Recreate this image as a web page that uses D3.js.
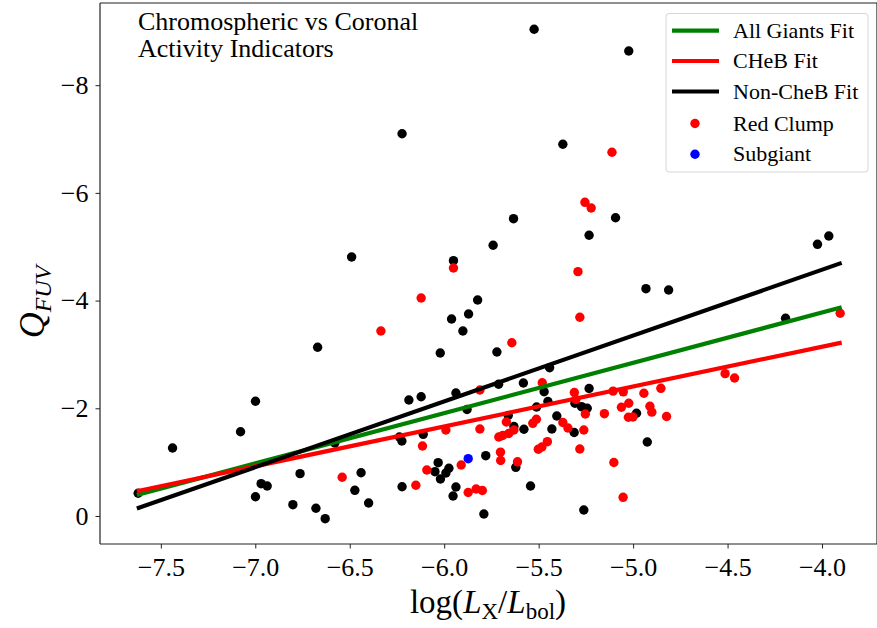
<!DOCTYPE html>
<html>
<head>
<meta charset="utf-8">
<script src="https://cdn.jsdelivr.net/npm/d3@7"></script>
<style>
  body { margin: 0; background: #fff; }
  text { font-family: "Liberation Serif", "DejaVu Serif", serif; fill: #000; }
</style>
</head>
<body>
<svg id="chart" width="877" height="628" viewBox="0 0 877 628"></svg>
<script>
// non-CHeB / all giants (black)
const giants = [
  [-5.524,-9.038],[-5.023,-8.635],[-6.223,-7.099],[-5.372,-6.903],[-5.633,-5.521],[-5.093,-5.539],
  [-5.233,-5.213],[-5.741,-5.027],[-5.951,-4.741],[-6.490,-4.810],[-4.932,-4.221],[-4.812,-4.197],
  [-5.823,-4.011],[-5.871,-3.751],[-5.961,-3.658],[-5.901,-3.435],[-6.021,-3.027],[-5.721,-3.045],
  [-6.670,-3.133],[-5.442,-2.754],[-3.964,-5.200],[-4.024,-5.045],[-4.193,-3.671],[-5.712,-2.446],
  [-5.581,-2.470],[-5.233,-2.368],[-5.938,-2.284],[-6.187,-2.154],[-6.122,-2.215],[-5.471,-2.308],
  [-5.879,-1.978],[-5.451,-2.126],[-5.511,-2.024],[-5.308,-2.093],[-5.273,-2.030],[-5.243,-2.000],
  [-4.982,-1.907],[-5.661,-1.866],[-5.404,-1.857],[-5.631,-1.662],[-5.578,-1.610],[-5.430,-1.616],
  [-5.312,-1.551],[-6.111,-1.517],[-6.237,-1.467],[-6.224,-1.393],[-4.925,-1.374],[-5.780,-1.120],
  [-5.621,-0.904],[-6.032,-0.990],[-5.975,-0.886],[-5.991,-0.798],[-6.049,-0.823],[-6.020,-0.687],
  [-6.223,-0.544],[-5.938,-0.539],[-5.953,-0.371],[-5.543,-0.557],[-5.790,-0.037],[-5.261,-0.111],
  [-6.999,-2.130],[-7.078,-1.565],[-7.438,-1.263],[-7.620,-0.422],[-6.763,-0.786],[-6.440,-0.804],
  [-6.473,-0.477],[-6.400,-0.241],[-6.969,-0.600],[-6.937,-0.557],[-6.999,-0.358],[-6.801,-0.210],
  [-6.679,-0.143],[-6.630,0.050],[-6.579,-1.356]
];

// red clump (CHeB)
const redClump = [
  [-5.112,-6.754],[-5.255,-5.825],[-5.222,-5.720],[-5.951,-4.605],[-5.292,-4.537],[-6.122,-4.048],
  [-5.282,-3.690],[-6.335,-3.435],[-5.642,-3.218],[-3.904,-3.764],[-4.513,-2.643],[-4.463,-2.563],
  [-4.853,-2.371],[-5.481,-2.475],[-5.811,-2.340],[-5.311,-2.293],[-5.303,-2.163],[-5.106,-2.318],
  [-5.052,-2.306],[-4.943,-2.279],[-5.253,-1.894],[-5.152,-1.900],[-5.062,-2.019],[-5.023,-2.093],
  [-4.911,-2.037],[-4.901,-1.928],[-5.025,-1.833],[-5.001,-1.838],[-4.823,-1.848],[-5.671,-1.746],
  [-5.512,-1.796],[-5.531,-1.721],[-5.372,-1.736],[-5.345,-1.634],[-5.261,-1.597],[-5.991,-1.597],
  [-5.811,-1.616],[-5.631,-1.597],[-5.658,-1.532],[-5.690,-1.495],[-5.711,-1.467],[-6.115,-1.300],
  [-5.454,-1.380],[-5.483,-1.281],[-5.502,-1.239],[-5.282,-1.244],[-5.702,-1.185],[-5.701,-1.031],
  [-5.612,-1.006],[-5.910,-0.947],[-6.092,-0.854],[-5.102,-0.994],[-6.150,-0.570],[-5.873,-0.436],
  [-5.831,-0.501],[-5.798,-0.474],[-5.053,-0.347],[-6.540,-0.719]
];

const subgiant = [[-5.873,-1.064]];

// fit lines, evaluated at the two ends of the x range
const fitX = [-7.627, -3.896];
const allFitQ = [-0.39, -3.875];
const chebFitQ = [-0.46, -3.22];
const nonChebFitQ = [-0.14, -4.70];

const xTicks = [-7.5, -7.0, -6.5, -6.0, -5.5, -5.0, -4.5, -4.0];
const yTicks = [0, -2, -4, -6, -8];

const svg = d3.select("#chart");
const pLeft = 100, pRight = 877, pTop = 3, pBottom = 544;

const x = d3.scaleLinear().domain([-7.822, -3.709]).range([pLeft, pRight]);
const y = d3.scaleLinear().domain([-9.526, 0.52]).range([pTop, pBottom]);

// axes
const xAxis = svg.append("g")
  .attr("transform", `translate(0,${pBottom})`)
  .call(d3.axisBottom(x).tickValues(xTicks).tickSizeOuter(0).tickSize(4.5).tickPadding(7)
    .tickFormat(d => (d < 0 ? "\u2212" : "") + Math.abs(d).toFixed(1)));
const yAxis = svg.append("g")
  .attr("transform", `translate(${pLeft},0)`)
  .call(d3.axisLeft(y).tickValues(yTicks).tickSizeOuter(0).tickSize(4.5).tickPadding(7)
    .tickFormat(d => (d < 0 ? "\u2212" : "") + Math.abs(d)));

[xAxis, yAxis].forEach(a => {
  a.select(".domain").remove();
  a.selectAll(".tick line").attr("stroke", "#222").attr("stroke-width", 1);
  a.selectAll(".tick text").attr("font-size", 26).attr("font-family", "Liberation Serif").attr("fill", "#000");
});
xAxis.selectAll(".tick text").attr("dy", "0.8em");

// frame
svg.append("g").selectAll("line")
  .data([[pLeft, pTop, pLeft, pBottom], [pLeft, pBottom, pRight, pBottom], [pLeft, pTop, pRight, pTop], [pRight, pTop, pRight, pBottom]])
  .join("line")
  .attr("x1", d => d[0]).attr("y1", d => d[1]).attr("x2", d => d[2]).attr("y2", d => d[3])
  .attr("stroke", "#222").attr("stroke-width", 1.2);

// scatter first (matplotlib puts lines above collections)
const pts = svg.append("g");
pts.append("g").selectAll("circle").data(giants).join("circle")
  .attr("cx", d => x(d[0])).attr("cy", d => y(d[1])).attr("r", 4.7).attr("fill", "black");
pts.append("g").selectAll("circle").data(redClump).join("circle")
  .attr("cx", d => x(d[0])).attr("cy", d => y(d[1])).attr("r", 4.7).attr("fill", "red");
pts.append("g").selectAll("circle").data(subgiant).join("circle")
  .attr("cx", d => x(d[0])).attr("cy", d => y(d[1])).attr("r", 4.7).attr("fill", "blue");

const fits = [
  {label: "All Giants Fit", color: "green", q: allFitQ},
  {label: "CHeB Fit", color: "red", q: chebFitQ},
  {label: "Non-CheB Fit", color: "black", q: nonChebFitQ}
];
const line = d3.line().x(d => x(d[0])).y(d => y(d[1]));
svg.append("g").selectAll("path").data(fits).join("path")
  .attr("d", f => line(fitX.map((v, i) => [v, f.q[i]])))
  .attr("stroke", f => f.color).attr("stroke-width", 4.2).attr("fill", "none");

// title
const title = svg.append("text").attr("x", 138).attr("y", 30).attr("font-size", 26);
title.append("tspan").attr("x", 138).text("Chromospheric vs Coronal");
title.append("tspan").attr("x", 138).attr("y", 57).text("Activity Indicators");

// legend
const lg = svg.append("g");
lg.append("rect").attr("x", 666).attr("y", 13.5).attr("width", 202).attr("height", 158.5)
  .attr("rx", 3).attr("fill", "white").attr("fill-opacity", 0.8)
  .attr("stroke", "#d6d6d6").attr("stroke-width", 1);
const rows = [30.7, 61, 91.5, 123.5, 154.3];
fits.forEach((f, i) => {
  lg.append("line").attr("x1", 672).attr("x2", 719).attr("y1", rows[i]).attr("y2", rows[i])
    .attr("stroke", f.color).attr("stroke-width", 4.2);
  lg.append("text").attr("x", 733).attr("y", rows[i] + 7).attr("font-size", 22).text(f.label);
});
[["Red Clump", "red"], ["Subgiant", "blue"]].forEach((d, j) => {
  const yy = rows[3 + j];
  lg.append("circle").attr("cx", 695).attr("cy", yy).attr("r", 4.7).attr("fill", d[1]);
  lg.append("text").attr("x", 733).attr("y", yy + 7).attr("font-size", 22).text(d[0]);
});

// axis labels
const xl = svg.append("text").attr("x", 488).attr("y", 613).attr("text-anchor", "middle").attr("font-size", 33);
xl.append("tspan").text("log(");
xl.append("tspan").attr("font-style", "italic").text("L");
xl.append("tspan").attr("font-size", 23).attr("dy", 6).text("X");
xl.append("tspan").attr("dy", -6).text("/");
xl.append("tspan").attr("font-style", "italic").text("L");
xl.append("tspan").attr("font-size", 23).attr("dy", 6).text("bol");
xl.append("tspan").attr("dy", -6).text(")");

const yl = svg.append("text").attr("transform", "translate(44,302) rotate(-90)")
  .attr("text-anchor", "middle").attr("font-size", 36).attr("font-style", "italic");
yl.append("tspan").text("Q");
yl.append("tspan").attr("font-size", 24).attr("dy", 7).text("FUV");
</script>
</body>
</html>
